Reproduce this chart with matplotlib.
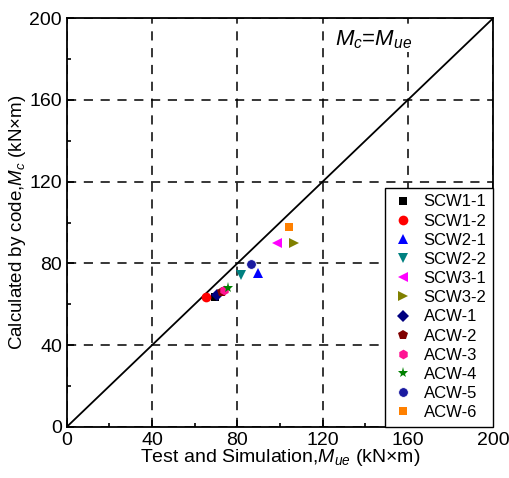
import matplotlib
matplotlib.use("Agg")
import matplotlib.pyplot as plt
from matplotlib.ticker import MultipleLocator

plt.rcParams['font.family'] = ['Liberation Sans', 'DejaVu Sans']
plt.rcParams['mathtext.fontset'] = 'custom'
plt.rcParams['mathtext.rm'] = 'Liberation Sans'
plt.rcParams['mathtext.it'] = 'Liberation Sans:italic'

labels = ['SCW1-1', 'SCW1-2', 'SCW2-1', 'SCW2-2', 'SCW3-1', 'SCW3-2',
          'ACW-1', 'ACW-2', 'ACW-3', 'ACW-4', 'ACW-5', 'ACW-6']
m_ue = [69.5, 65.5, 89.7, 81.7, 98.6, 106.6, 70.4, 72.8, 73.7, 75.6, 86.4, 104.2]
m_c = [63.6, 63.6, 75.3, 74.3, 90.0, 90.0, 64.5, 66.0, 67.0, 68.0, 79.7, 97.8]
markers = ['s', 'o', '^', 'v', '<', '>', 'D', 'p', 'h', '*', 'o', 's']
colors = ['black', 'red', 'blue', '#008080', '#ff00ff', '#808000',
          '#000080', '#800000', '#ff1493', '#008000', '#1a1aa0', '#ff8000']
sizes = [6, 7, 7, 7, 7, 7, 6, 7, 7, 8, 7, 6]

fig = plt.figure(figsize=(5.1, 4.78), dpi=100)
ax = fig.add_axes([0.131, 0.107, 0.836, 0.855])

ax.plot([0, 200], [0, 200], color='black', lw=1.3, zorder=2)

for x, y, lab, mk, c, s in zip(m_ue, m_c, labels, markers, colors, sizes):
    ec = 'white' if lab == 'ACW-5' else c
    ax.plot(x, y, linestyle='none', marker=mk, color=c, markeredgecolor=ec,
            markeredgewidth=0.6 if lab == 'ACW-5' else 0, markersize=s,
            label=lab, zorder=3)

ax.set_xlim(0, 200)
ax.set_ylim(0, 200)
ax.xaxis.set_major_locator(MultipleLocator(40))
ax.yaxis.set_major_locator(MultipleLocator(40))
ax.xaxis.set_minor_locator(MultipleLocator(20))
ax.yaxis.set_minor_locator(MultipleLocator(20))
ax.tick_params(which='both', direction='in', labelsize=14, width=1.2)
ax.tick_params(which='major', length=5)
ax.tick_params(which='minor', length=3)
ax.grid(True, which='major', color='black', linestyle=(0, (6, 5)), lw=1.1)
for sp in ax.spines.values():
    sp.set_linewidth(1.3)

ax.set_xlabel('Test and Simulation,$M_{ue}$ (kN\u00d7m)', fontsize=14, labelpad=-1)
ax.set_ylabel('Calculated by code,$M_c$ (kN\u00d7m)', fontsize=13.5, labelpad=1)

ax.text(126, 195, '$M_c$=$M_{ue}$', fontsize=16, va='top', ha='left',
        bbox=dict(facecolor='white', edgecolor='none', pad=1))

leg = ax.legend(loc='lower right', fontsize=12, frameon=True, fancybox=False,
                edgecolor='black', framealpha=1, borderaxespad=0,
                handletextpad=0.6, labelspacing=0.25, handlelength=1.3,
                borderpad=0.4)
leg.get_frame().set_linewidth(1.0)

fig.savefig('out.png', dpi=100)
